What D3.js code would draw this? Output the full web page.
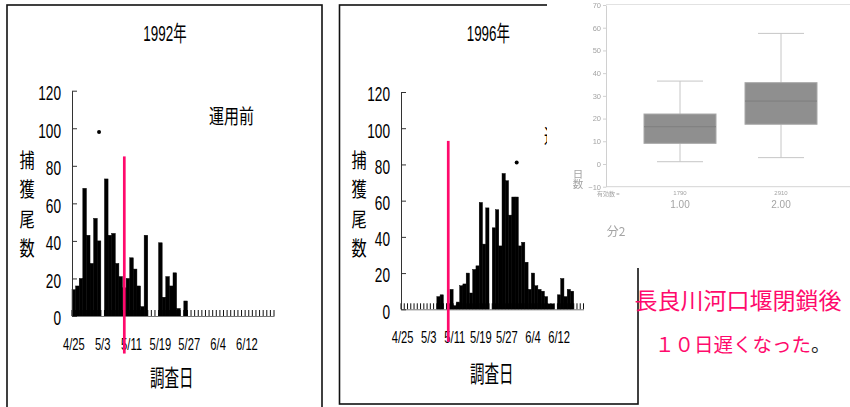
<!DOCTYPE html>
<html><head><meta charset="utf-8">
<script src="https://cdn.jsdelivr.net/npm/d3@7"></script>
<style>body{margin:0;background:#fff}svg{display:block}</style>
</head><body>
<svg id="c" width="850" height="407"></svg>
<script>
// ---------- data ----------
const dates = ["4/25","4/26","4/27","4/28","4/29","4/30",
  "5/1","5/2","5/3","5/4","5/5","5/6","5/7","5/8","5/9","5/10","5/11","5/12","5/13","5/14","5/15","5/16",
  "5/17","5/18","5/19","5/20","5/21","5/22","5/23","5/24","5/25","5/26","5/27","5/28","5/29","5/30","5/31",
  "6/1","6/2","6/3","6/4","6/5","6/6","6/7","6/8","6/9","6/10","6/11","6/12","6/13","6/14","6/15","6/16","6/17","6/18","6/19"];
const tickLabels = ["4/25","5/3","5/11","5/19","5/27","6/4","6/12"];
const catch1992 = [14,16,20,68,43,28,52,40,0,73,
                   43,44,28,21,15,20,31,25,16,5,
                   43,0,0,0,39,10,21,16,23,4,
                   0,8,0,0,0,0,0,0,0,0,
                   0,0,0,0,0,0,0,0,0,0,
                   0,0,0,0,0,0];
const catch1996 = [0,0,0,0,0,0,0,0,0,0,
                   0,7,8,0,3,11,2,4,13,14,
                   20,9,22,24,59,36,56,0,45,55,
                   35,75,71,52,62,62,35,37,26,11,
                   20,13,11,10,7,3,3,0,8,17,
                   7,11,10,0,0,0];
const yTicks = [0,20,40,60,80,100,120];
const titles = ["1992年","1996年"];
const periodLabels = ["運用前","運用後"];
const peakDates = ["5/2","5/30"];
const peakValues = [98,81];
const closureDates = ["5/9","5/9"];
const closureTop = [85,93];
const closureBottom = [-20,-18];
const yTitle = ["捕","獲","尾","数"];
const xTitle = "調査日";

const boxCats = ["1.00","2.00"];
const boxCounts = ["1790","2910"];
const boxMin = [1,2.8];
const boxQ1 = [9.1,17.5];
const boxMed = [16.4,27.7];
const boxQ3 = [22,35.8];
const boxMax = [36.5,57.5];
const boxTicks = [-10,0,10,20,30,40,50,60,70];
const boxYTitle = "日数";
const noteLine1 = "長良川河口堰閉鎖後";
const noteLine2 = "１０日遅くなった";

// ---------- drawing ----------
const svg = d3.select("#c");
const PINK = "#ff0a6c";
const LAT = "'Liberation Sans', Arial, 'Noto Sans CJK JP', sans-serif";
const JP = "'Noto Sans CJK JP', sans-serif";

function sText(g, x, y, s, size, sx, anchor, family, fill) {
  return g.append("text")
    .attr("transform", `translate(${x},${y}) scale(${sx},1)`)
    .attr("text-anchor", anchor)
    .attr("dominant-baseline", "central")
    .attr("font-size", size)
    .attr("font-family", family)
    .attr("fill", fill || "#000")
    .text(s);
}

const panels = [
  {values: catch1992, frame:[7,5,315,460], x0:72, x1:274, yTop:90.7, yBase:316,
   title:[165,34], period:[231.5,116,"middle"], yt:27, xt:[171.7,376]},
  {values: catch1996, frame:[339.5,5,298.5,399], x0:401, x1:583.5, yTop:92, yBase:309.3,
   title:[488.3,34], period:[544,136,"start"], yt:359, xt:[491.7,372.5]}
];

panels.forEach((p, i) => {
  const g = svg.append("g");
  g.append("rect").attr("x", p.frame[0]).attr("y", p.frame[1]).attr("width", p.frame[2]).attr("height", p.frame[3])
    .attr("fill", "none").attr("stroke", "#111").attr("stroke-width", 1.6);

  const x = d3.scaleBand().domain(dates).range([p.x0, p.x1]).padding(0);
  const y = d3.scaleLinear().domain([0,120]).range([p.yBase, p.yTop]);

  // day tick marks (comb) on the category axis
  const bounds = dates.map(d => x(d)).concat([p.x1]);
  g.append("g").selectAll("line").data(bounds).join("line")
    .attr("x1", d => d).attr("x2", d => d)
    .attr("y1", y(0)).attr("y2", y(0) - 6)
    .attr("stroke", "#111").attr("stroke-width", 1);

  // bars
  g.append("g").selectAll("rect").data(p.values.map((v, k) => ({d: dates[k], v})).filter(o => o.v > 0)).join("rect")
    .attr("x", o => x(o.d)).attr("width", x.bandwidth())
    .attr("y", o => y(o.v)).attr("height", o => y(0) - y(o.v))
    .attr("fill", "#000").attr("stroke", "#000").attr("stroke-width", 0.45);

  // x axis
  const xa = g.append("g").attr("transform", `translate(0,${p.yBase})`)
    .call(d3.axisBottom(x).tickValues(tickLabels).tickSize(0).tickSizeOuter(0));
  xa.select(".domain").attr("stroke", "#777").attr("stroke-width", 1);
  xa.selectAll("text").attr("y", null).attr("dy", null)
    .attr("transform", "translate(0,34) scale(0.7,1)")
    .attr("font-size", 16).attr("font-family", LAT).attr("fill", "#000");

  // y axis
  const ya = g.append("g").attr("transform", `translate(${p.x0},0)`)
    .call(d3.axisLeft(y).tickValues(yTicks).tickSizeInner(-5).tickSizeOuter(0).tickPadding(0));
  ya.select(".domain").attr("stroke", "#333").attr("stroke-width", 1);
  ya.selectAll(".tick line").attr("stroke", "#333");
  ya.selectAll("text").attr("x", null).attr("dy", null)
    .attr("dominant-baseline", "central")
    .attr("transform", "translate(-11,1.8) scale(0.65,1)")
    .attr("font-size", 21).attr("font-family", LAT).attr("fill", "#000");

  // titles
  sText(g, p.title[0], p.title[1], titles[i], 22, 0.61, "middle", LAT);
  sText(g, p.period[0], p.period[1], periodLabels[i], 20, 0.75, p.period[2], JP);
  yTitle.forEach((c, k) => sText(g, p.yt, 159 + k * 29.3, c, 20, 0.76, "middle", JP));
  sText(g, p.xt[0], p.xt[1], xTitle, 23, 0.63, "middle", JP);

  // peak dot
  g.append("circle").attr("cx", x(peakDates[i]) + x.bandwidth() / 2).attr("cy", y(peakValues[i]))
    .attr("r", 2).attr("fill", "#000");

  // closure line
  const cx = x(closureDates[i]) + x.bandwidth() / 2;
  g.append("line").attr("x1", cx).attr("x2", cx)
    .attr("y1", y(closureTop[i])).attr("y2", y(closureBottom[i]))
    .attr("stroke", PINK).attr("stroke-width", 2.7);
});

// ---------- box plot overlay image ----------
const defs = svg.append("defs");
defs.append("filter").attr("id", "blur").append("feGaussianBlur").attr("stdDeviation", 0.45);

svg.append("rect").attr("x", 547).attr("y", 0).attr("width", 303).attr("height", 268).attr("fill", "#fff");
const bg = svg.append("g").attr("filter", "url(#blur)");
const by = d3.scaleLinear().domain([-10,70]).range([186.7, 5]);
const bx = d3.scalePoint().domain(boxCats).range([680, 781]);
const GR = "#a4a4a4";

bg.append("line").attr("x1", 606).attr("x2", 850).attr("y1", 4.5).attr("y2", 4.5).attr("stroke", "#e2e2e2");
bg.append("line").attr("x1", 606).attr("x2", 850).attr("y1", by(-10)).attr("y2", by(-10)).attr("stroke", "#d4d4d4");
const bya = bg.append("g").attr("transform", "translate(606,0)")
  .call(d3.axisLeft(by).tickValues(boxTicks).tickSize(3).tickSizeOuter(0).tickPadding(2));
bya.select(".domain").attr("stroke", "#d0d0d0");
bya.selectAll(".tick line").attr("stroke", "#d0d0d0");
bya.selectAll("text").attr("fill", GR).attr("font-size", 7.5).attr("font-family", LAT);

boxCats.forEach((c, i) => {
  const cx = bx(c);
  bg.append("line").attr("x1", cx).attr("x2", cx).attr("y1", by(boxMax[i])).attr("y2", by(boxQ3[i]))
    .attr("stroke", "#c6c6c6");
  bg.append("line").attr("x1", cx).attr("x2", cx).attr("y1", by(boxQ1[i])).attr("y2", by(boxMin[i]))
    .attr("stroke", "#c6c6c6");
  [boxMax[i], boxMin[i]].forEach(v => bg.append("line")
    .attr("x1", cx - 23).attr("x2", cx + 23).attr("y1", by(v)).attr("y2", by(v)).attr("stroke", "#c6c6c6"));
  bg.append("rect").attr("x", cx - 36).attr("width", 72)
    .attr("y", by(boxQ3[i])).attr("height", by(boxQ1[i]) - by(boxQ3[i]))
    .attr("fill", "#8f8f8f").attr("stroke", "#a8a8a8");
  bg.append("line").attr("x1", cx - 36).attr("x2", cx + 36).attr("y1", by(boxMed[i])).attr("y2", by(boxMed[i]))
    .attr("stroke", "#7e7e7e");
  sText(bg, cx, 192.5, boxCounts[i], 6, 1, "middle", LAT, GR);
  sText(bg, cx, 204, c, 10, 1, "middle", LAT, GR);
});
sText(bg, 597, 193.5, "有効数 =", 6, 1, "start", JP, GR);
bg.append("text")
  .attr("transform", "translate(578,179)")
  .attr("writing-mode", "vertical-rl")
  .attr("text-anchor", "middle")
  .attr("font-size", 10.5).attr("font-family", JP).attr("fill", GR)
  .text(boxYTitle);
sText(bg, 616, 230, "分2", 12, 1, "middle", JP, GR);

// ---------- pink note ----------
sText(svg, 738, 299, noteLine1, 23, 1, "middle", JP, PINK);
const t2 = sText(svg, 655, 343, "", 19.5, 1, "start", JP, PINK);
t2.append("tspan").text(noteLine2);
t2.append("tspan").attr("fill", "#222").text("。");
</script>
</body></html>
